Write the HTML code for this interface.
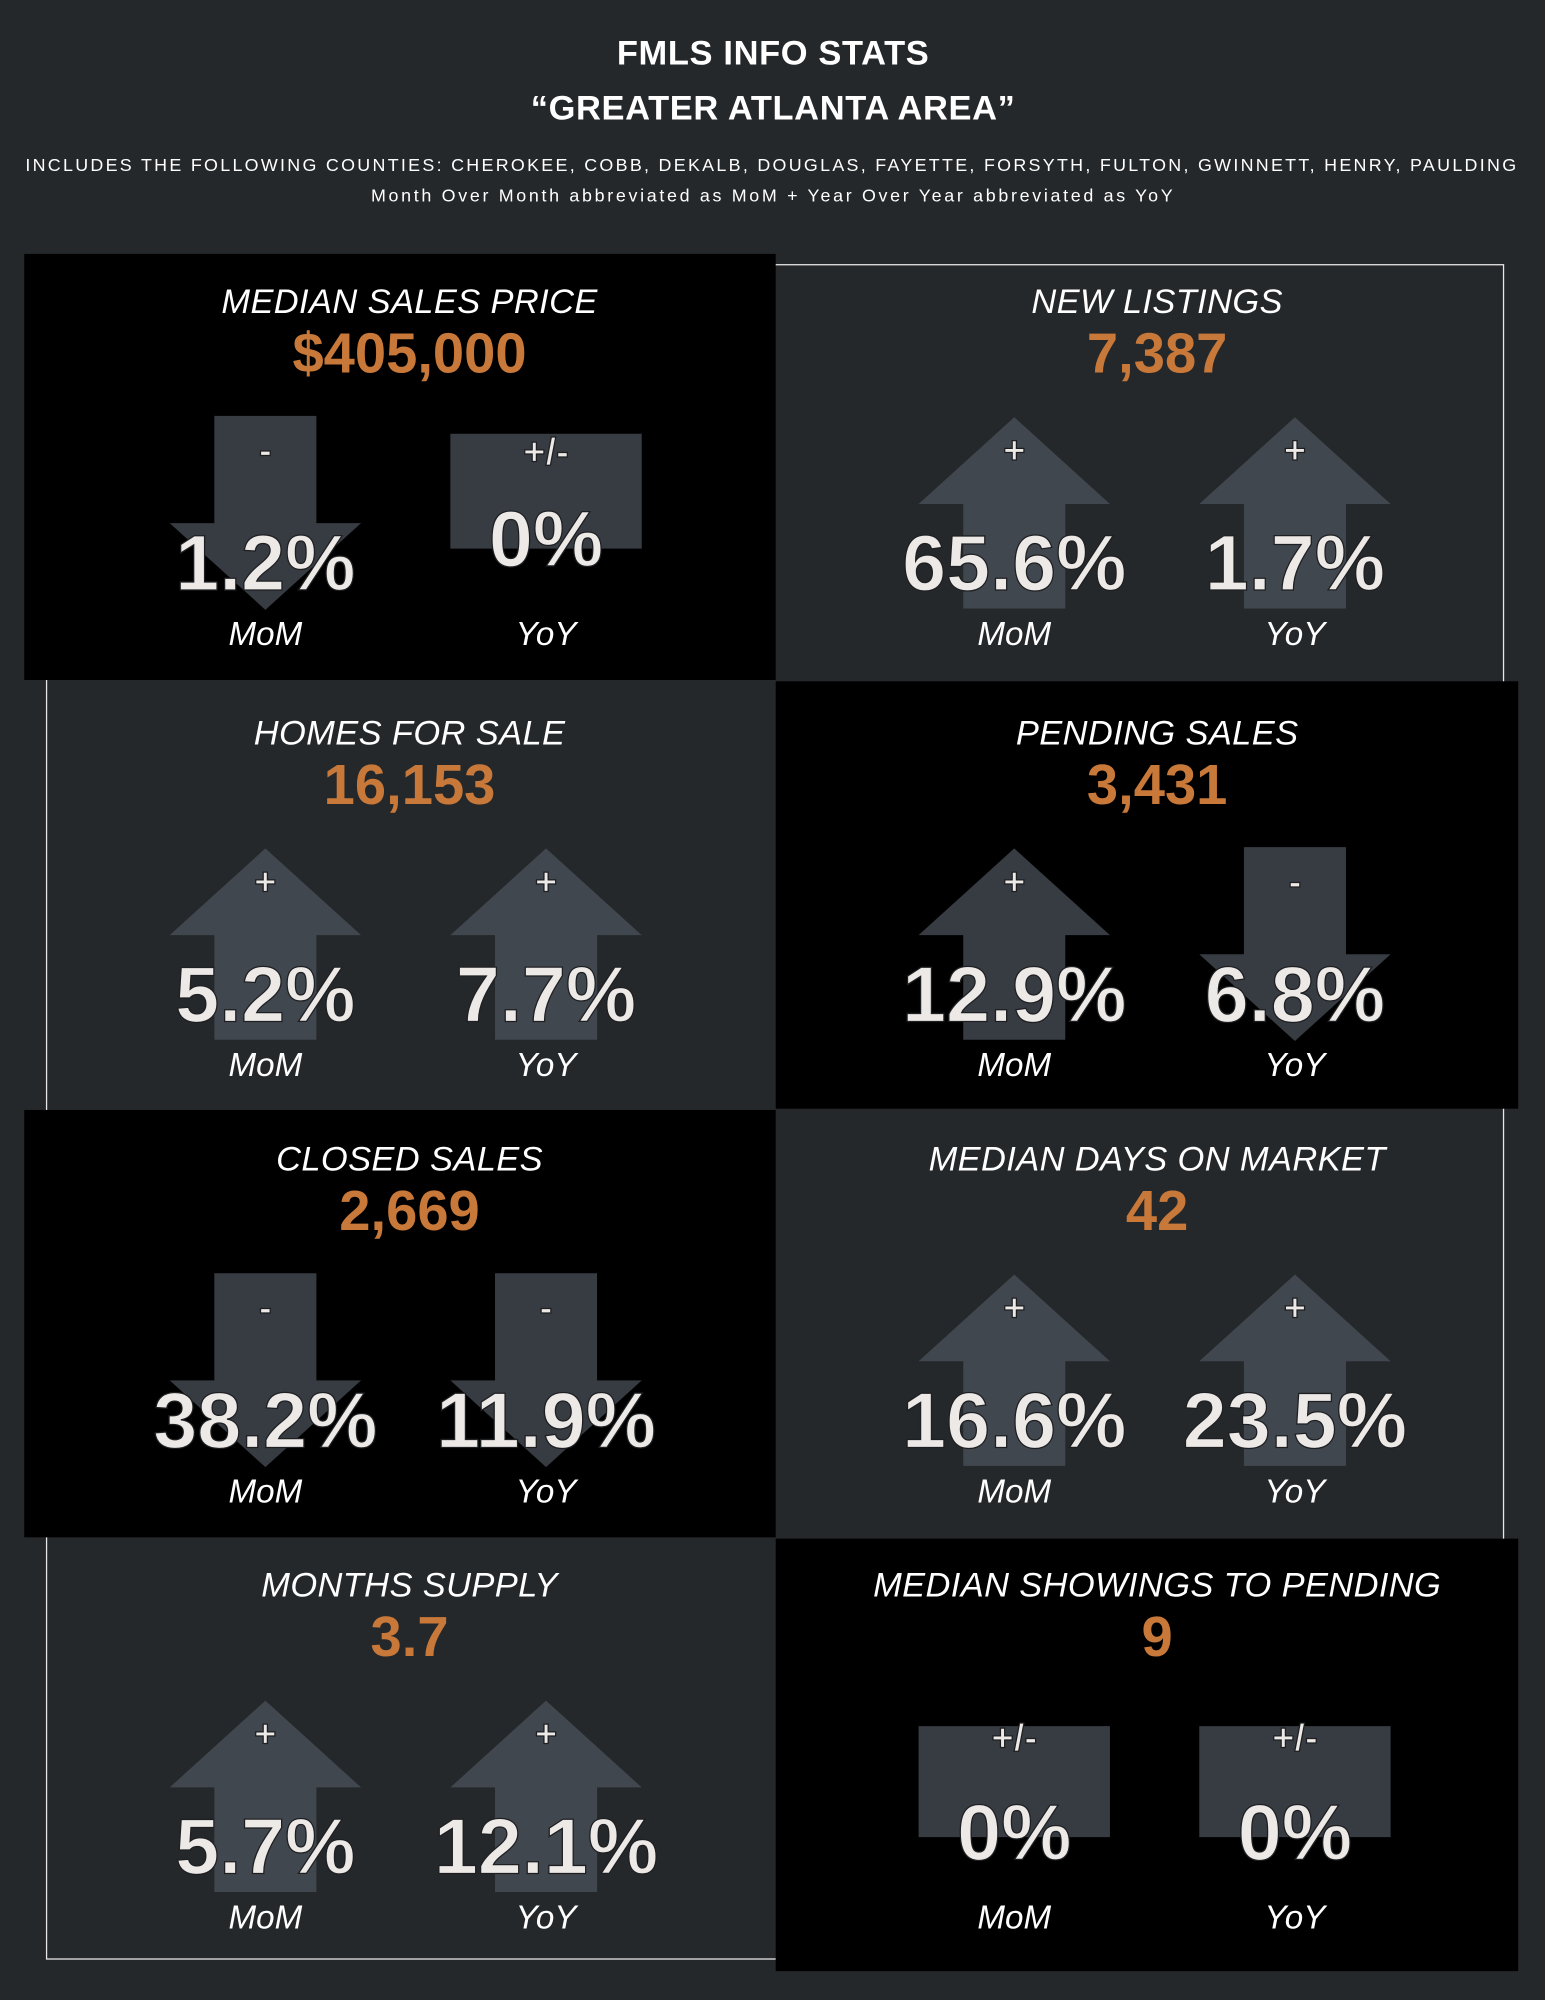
<!DOCTYPE html>
<html><head><meta charset="utf-8">
<style>
html,body{margin:0;padding:0;background:#25282b;width:1545px;height:2000px;overflow:hidden;}
#wrap{position:absolute;left:0;top:0;width:1211px;height:1568px;transform:scale(1.27581);transform-origin:0 0;font-family:"Liberation Sans",sans-serif;color:#fff;}
.abs{position:absolute;}
.ctr{position:absolute;transform:translate(-50%,-50%);white-space:nowrap;}
.h1{font-weight:bold;font-size:27px;letter-spacing:0.5px;}
.sub{font-size:14px;letter-spacing:1.8px;}
.sub2{font-size:14px;letter-spacing:2.1px;}
.title{font-style:italic;font-size:27px;letter-spacing:0.3px;}
.val{font-weight:bold;font-size:44px;color:#c8793a;}
.pct{font-weight:bold;font-size:62px;color:#ece9e6;-webkit-text-stroke:1px #1e1f22;letter-spacing:0px;}
.sign{font-weight:bold;font-size:30px;color:#ece9e6;-webkit-text-stroke:1px #1e1f22;}
.lbl{font-style:italic;font-size:26px;}
</style></head>
<body>
<div id="wrap">
  <div class="ctr h1" style="left:606px;top:42px">FMLS INFO STATS</div>
  <div class="ctr h1" style="left:606px;top:85px">“GREATER ATLANTA AREA”</div>
  <div class="ctr sub" style="left:605px;top:129px">INCLUDES THE FOLLOWING COUNTIES: CHEROKEE, COBB, DEKALB, DOUGLAS, FAYETTE, FORSYTH, FULTON, GWINNETT, HENRY, PAULDING</div>
  <div class="ctr sub2" style="left:606px;top:153px">Month Over Month abbreviated as MoM + Year Over Year abbreviated as YoY</div>
  <div class="abs" style="left:36px;top:207px;width:1141px;height:1327px;border:1px solid #e8e8e8;"></div>
  <svg id="svg" class="abs" style="left:0;top:0" width="1211" height="1568"></svg>
  <div id="texts"></div>
</div>
<script>
const titles=["MEDIAN SALES PRICE","NEW LISTINGS","HOMES FOR SALE","PENDING SALES","CLOSED SALES","MEDIAN DAYS ON MARKET","MONTHS SUPPLY","MEDIAN SHOWINGS TO PENDING"];
const values=["$405,000","7,387","16,153","3,431","2,669","42","3.7","9"];
const momPct=["1.2%","65.6%","5.2%","12.9%","38.2%","16.6%","5.7%","0%"];
const momDir=["down","up","up","up","down","up","up","flat"];
const yoyPct=["0%","1.7%","7.7%","6.8%","11.9%","23.5%","12.1%","0%"];
const yoyDir=["flat","up","up","down","down","up","up","flat"];

const rowT=[237,575,909,1243];
const rowTop=[199,534,870,1206];
const rowBot=[533,869,1205,1545];
const svg=document.getElementById('svg');
const texts=document.getElementById('texts');
const NS='http://www.w3.org/2000/svg';
function txt(cls,x,y,s,name){
  const d=document.createElement('div');
  d.className='ctr '+cls;d.style.left=x+'px';d.style.top=y+'px';d.textContent=s;
  
  
  texts.appendChild(d);
}
for(let i=0;i<8;i++){
  const r=Math.floor(i/2), right=i%2===1;
  const black=(r%2===0)!==right;
  const T=rowT[r];
  const cx=right?907:321;
  const c1=right?795:208, c2=right?1015:428;
  if(black){
    const rect=document.createElementNS(NS,'rect');
    const x0=right?608:19, x1=right?1190:608;
    rect.setAttribute('x',x0);rect.setAttribute('y',rowTop[r]);
    rect.setAttribute('width',x1-x0);rect.setAttribute('height',rowBot[r]-rowTop[r]);
    rect.setAttribute('fill','#000');
    
    
    svg.appendChild(rect);
  }
  const fill=black?'#373b42':'#41474e';
  txt('title',cx,T,titles[i],'panel-title');
  txt('val',cx,T+41,values[i],'panel-value');
  [[c1,momDir[i],momPct[i],'MoM'],[c2,yoyDir[i],yoyPct[i],'YoY']].forEach(([c,dir,p,l])=>{
    let pts,sign,sy,py=T+205;
    if(dir==='up'){pts=[[c,T+90],[c+75,T+158],[c+40,T+158],[c+40,T+240],[c-40,T+240],[c-40,T+158],[c-75,T+158]];sign='+';sy=T+117;}
    else if(dir==='down'){pts=[[c-40,T+89],[c+40,T+89],[c+40,T+173],[c+75,T+173],[c,T+241],[c-75,T+173],[c-40,T+173]];sign='-';sy=T+117;}
    else{const t0=i===7?T+110:T+103,t1=i===7?T+197:T+193;pts=[[c-75,t0],[c+75,t0],[c+75,t1],[c-75,t1]];sign='+/-';sy=i===7?T+120:T+118;py=i===7?T+194:T+186;}
    const pg=document.createElementNS(NS,'polygon');
    pg.setAttribute('points',pts.map(q=>q.join(',')).join(' '));
    pg.setAttribute('fill',fill);
    
    
    svg.appendChild(pg);
    txt('sign',c,sy,sign,'change-sign');
    txt('pct',c,py,p,'change-percent');
    txt('lbl',c,T+260,l,'change-label');
  });
}
</script>
</body></html>
